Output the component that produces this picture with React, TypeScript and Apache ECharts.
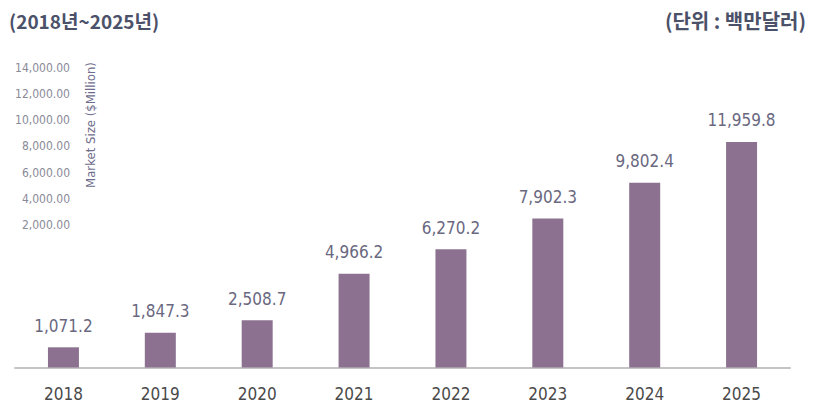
import React, { useEffect, useRef } from "react";
import * as echarts from "echarts";

const years = ["2018", "2019", "2020", "2021", "2022", "2023", "2024", "2025"];
const marketSize = [1071.2, 1847.3, 2508.7, 4966.2, 6270.2, 7902.3, 9802.4, 11959.8];
const fakeAxisMax = 14000;
const fakeAxisStep = 2000;
const titleLeft = "(2018년~2025년)";
const titleRight = "(단위 : 백만달러)";
const axisName = "Market Size ($Million)";

const NUM_FONT = "'Liberation Sans Narrow', 'DejaVu Sans Condensed', Roboto, sans-serif";
const KR_FONT = "'Noto Sans CJK KR', sans-serif";

export default function App() {
  const ref = useRef<HTMLDivElement>(null);
  useEffect(() => {
    if (!ref.current) return;
    const chart = echarts.init(ref.current, null, { renderer: "svg" });
    chart.setOption({
      animation: false,
      backgroundColor: "#ffffff",
      grid: [
        { left: 15, right: 27, top: 103.5, bottom: 44.5 },
        { left: 78, width: 10, top: 68, bottom: 161 },
      ],
      xAxis: [
        {
          type: "category",
          gridIndex: 0,
          data: years,
          axisTick: { show: false },
          axisLine: { lineStyle: { color: "#c4c4c4", width: 2 } },
          axisLabel: { color: "#4a4a4a", fontSize: 17, margin: 18, fontFamily: NUM_FONT },
        },
        { type: "value", gridIndex: 1, show: false, min: 0, max: 1 },
      ],
      yAxis: [
        { type: "value", gridIndex: 0, min: 0, max: fakeAxisMax, show: false },
        {
          type: "value",
          gridIndex: 1,
          min: 0,
          max: fakeAxisMax,
          interval: fakeAxisStep,
          axisLine: { show: false },
          axisTick: { show: false },
          splitLine: { show: false },
          axisLabel: {
            showMinLabel: false,
            margin: 8,
            color: "#8a8a98",
            fontSize: 12,
            fontFamily: NUM_FONT,
            formatter: (v: number) =>
              v.toLocaleString("en-US", { minimumFractionDigits: 2, maximumFractionDigits: 2 }),
          },
        },
      ],
      series: [
        {
          type: "bar",
          xAxisIndex: 0,
          yAxisIndex: 0,
          data: marketSize,
          barWidth: 31,
          itemStyle: { color: "#8c7290" },
          label: {
            show: true,
            position: "top",
            distance: 13,
            color: "#6a6880",
            fontSize: 17,
            fontFamily: NUM_FONT,
            formatter: (p: any) =>
              Number(p.value).toLocaleString("en-US", { minimumFractionDigits: 1, maximumFractionDigits: 1 }),
          },
        },
      ],
      graphic: [
        {
          type: "text",
          left: 9,
          top: 11,
          style: { text: titleLeft, fill: "#4b5169", fontSize: 19, fontWeight: "bold", fontFamily: KR_FONT },
        },
        {
          type: "text",
          right: 11,
          top: 10,
          style: { text: titleRight, fill: "#4b5169", fontSize: 20, fontWeight: "bold", fontFamily: KR_FONT },
        },
        {
          type: "text",
          x: 90,
          y: 125,
          rotation: Math.PI / 2,
          style: {
            text: axisName,
            fill: "#6e6d8c",
            fontSize: 13,
            fontFamily: NUM_FONT,
            align: "center",
            verticalAlign: "middle",
          },
        },
      ],
    });
    return () => chart.dispose();
  }, []);
  return <div ref={ref} style={{ position: "fixed", left: 0, top: 0, width: 817, height: 412 }} />;
}
